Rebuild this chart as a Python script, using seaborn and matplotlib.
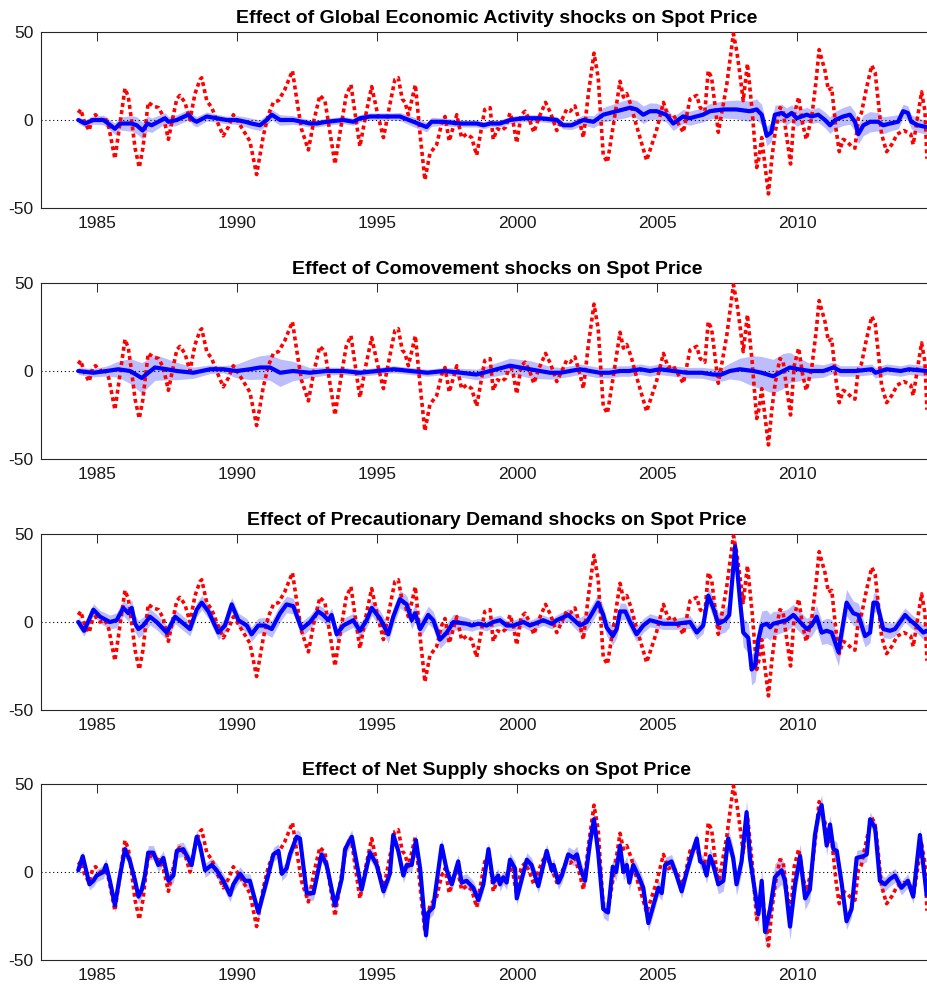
import numpy as np
import matplotlib
matplotlib.use("Agg")
import matplotlib.pyplot as plt
import seaborn as sns

# ---------------- data ----------------
titles = [
    "Effect of Global Economic Activity shocks on Spot Price",
    "Effect of Comovement shocks on Spot Price",
    "Effect of Precautionary Demand shocks on Spot Price",
    "Effect of Net Supply shocks on Spot Price",
]
x_ticks = [1985, 1990, 1995, 2000, 2005, 2010]
y_ticks = [-50, 0, 50]

# spot price (red dotted), same in every panel
red_year = [1984.33, 1984.42, 1984.55, 1984.72, 1984.85, 1984.95, 1985.1, 1985.3, 1985.42, 1985.64,
            1985.82, 1986.0, 1986.12, 1986.25, 1986.36, 1986.51, 1986.64, 1986.74, 1986.83, 1987.0,
            1987.2, 1987.37, 1987.55, 1987.73, 1987.85, 1987.96, 1988.14, 1988.32, 1988.5, 1988.68,
            1988.74, 1988.92, 1989.1, 1989.27, 1989.51, 1989.69, 1989.87, 1990.0, 1990.23, 1990.46,
            1990.7, 1990.94, 1991.12, 1991.3, 1991.48, 1991.7, 1991.98, 1992.15, 1992.3, 1992.55,
            1992.75, 1992.96, 1993.14, 1993.3, 1993.5, 1993.7, 1993.9, 1994.07, 1994.25, 1994.39,
            1994.6, 1994.81, 1995.0, 1995.23, 1995.45, 1995.64, 1995.76, 1995.9, 1996.0, 1996.12,
            1996.37, 1996.55, 1996.71, 1996.89, 1997.13, 1997.31, 1997.43, 1997.58, 1997.85, 1998.02,
            1998.2, 1998.38, 1998.56, 1998.85, 1999.04, 1999.15, 1999.3, 1999.45, 1999.6, 1999.75,
            1999.87, 1999.99, 2000.15, 2000.29, 2000.45, 2000.6, 2000.8, 2001.02, 2001.2, 2001.42,
            2001.6, 2001.77, 2001.9, 2002.07, 2002.25, 2002.37, 2002.55, 2002.75, 2002.9, 2003.08,
            2003.23, 2003.45, 2003.68, 2003.8, 2003.92, 2004.08, 2004.21, 2004.63, 2004.98, 2005.23,
            2005.4, 2005.58, 2005.76, 2005.94, 2006.18, 2006.42, 2006.54, 2006.71, 2006.83, 2006.95,
            2007.19, 2007.49, 2007.73, 2007.85, 2007.96, 2008.08, 2008.23, 2008.4, 2008.56, 2008.65,
            2008.74, 2008.85, 2008.98, 2009.1, 2009.22, 2009.39, 2009.5, 2009.6, 2009.77, 2009.9,
            2010.06, 2010.2, 2010.33, 2010.52, 2010.68, 2010.79, 2011.0, 2011.12, 2011.24, 2011.4,
            2011.51, 2011.65, 2011.77, 2011.95, 2012.07, 2012.19, 2012.3, 2012.48, 2012.67, 2012.79,
            2012.9, 2013.02, 2013.2, 2013.38, 2013.58, 2013.82, 2014.06, 2014.15, 2014.27, 2014.45,
            2014.57, 2014.64]
red_val = [4, 6, -1, -6, 2, 3, 0, 1, -4, -22,
           -2, 18, 13, -2, -16, -27, -16, -2, 10, 8,
           7, 2, -11, 3, 12, 14, 10, 0, 15, 23,
           24, 11, 7, 0, -9, -4, 3, 0, -6, -12,
           -31, -9, 3, 10, 11, 17, 28, 10, -5, -17,
           0, 14, 11, -5, -25, -5, 14, 20, 0, -15,
           3, 19, 5, -10, 8, 23, 24, 12, 10, 3,
           20, -10, -34, -19, -14, -2, 2, -12, 3, -10,
           -8, -10, -20, 6, 7, -11, -5, -6, -4, 4,
           -2, -13, 3, 5, 0, -7, 2, 10, 4, -6,
           0, 6, 5, 8, -2, -10, 15, 38, 24, -20,
           -24, -2, 22, 13, 15, 8, 0, -23, -6, 10,
           2, 3, -2, -7, 12, 14, 7, 5, 28, 24,
           -7, 20, 49, 39, 26, 11, 32, 5, -27, -21,
           -10, -25, -42, -22, -7, 7, 6, -6, -25, 3,
           13, -2, -11, 1, 22, 40, 28, 17, 18, -6,
           -18, -11, -12, -15, -16, 1, 4, 18, 31, 27,
           11, -8, -18, -14, -8, -6, -8, -14, -2, 16,
           5, -22]

# Global Economic Activity contribution
b1_year = [1984.33, 1984.57, 1984.87, 1985.23, 1985.4, 1985.64, 1985.82, 1986.24, 1986.42, 1986.63,
           1986.8, 1986.95, 1987.19, 1987.43, 1987.55, 1987.85, 1988.26, 1988.44, 1988.56, 1988.92,
           1989.27, 1989.63, 1989.99, 1990.29, 1990.52, 1990.82, 1991.06, 1991.24, 1991.54, 1992.01,
           1992.61, 1992.85, 1993.2, 1993.8, 1994.15, 1994.39, 1994.75, 1995.11, 1995.46, 1995.82,
           1996.3, 1996.77, 1996.95, 1997.37, 1997.96, 1998.56, 1998.8, 1999.04, 1999.39, 1999.75,
           2000.23, 2000.82, 2001.42, 2001.65, 2001.95, 2002.37, 2002.73, 2003.08, 2003.8, 2004.04,
           2004.27, 2004.51, 2004.75, 2004.99, 2005.33, 2005.58, 2005.93, 2006.17, 2006.4, 2006.64,
           2006.89, 2007.37, 2007.83, 2008.3, 2008.56, 2008.74, 2008.92, 2009.08, 2009.21, 2009.45,
           2009.63, 2009.81, 2009.99, 2010.35, 2010.52, 2010.76, 2011.0, 2011.18, 2011.36, 2011.65,
           2011.89, 2012.07, 2012.19, 2012.37, 2012.61, 2012.9, 2013.08, 2013.32, 2013.61, 2013.79,
           2013.96, 2014.08, 2014.32, 2014.62]
b1_val = [0, -2, 0, 0, -2, -5, -2, -2, -3, -6,
          -2, -3, -1, 1, -1, 0, 3, 0, -1, 2,
          1, 0, 0, -1, -2, -3, 0, 3, 0, 0,
          -2, -2, -1, 0, -1, 1, 2, 2, 2, 2,
          -1, -4, -1, -1, -2, -2, -3, -2, -2, 0,
          1, 1, 0, -3, -3, 0, -1, 3, 6, 7,
          6, 3, 5, 5, 3, -2, 2, 1, 2, 3,
          5, 6, 6, 5, 6, 3, -9, -7, 3, 4,
          2, 4, 1, 3, 2, 3, 0, -3, 0, 2,
          3, -1, -8, -3, -1, -1, -3, -2, -1, 5,
          4, -1, -3, -4]

# Comovement contribution
b2_year = [1984.33, 1984.87, 1985.35, 1985.76, 1986.18, 1986.6, 1986.83, 1987.07, 1987.49, 1987.85,
           1988.44, 1989.04, 1989.51, 1989.99, 1990.46, 1990.82, 1991.18, 1991.54, 1992.0, 1992.6,
           1993.2, 1993.8, 1994.4, 1995.0, 1995.6, 1996.2, 1996.8, 1997.4, 1998.0, 1998.55,
           1999.04, 1999.75, 2000.11, 2000.46, 2000.82, 2001.18, 2001.54, 2001.9, 2002.25, 2002.6,
           2002.96, 2003.3, 2003.68, 2004.0, 2004.4, 2004.75, 2005.1, 2005.6, 2006.06, 2006.6,
           2007.0, 2007.3, 2007.6, 2007.96, 2008.44, 2008.74, 2009.15, 2009.5, 2009.75, 2010.05,
           2010.47, 2010.94, 2011.3, 2011.55, 2012.1, 2012.67, 2012.8, 2013.2, 2013.7, 2014.0,
           2014.64]
b2_val = [0, -1, 0, 1, 0, -4, -1, 2, 1, 0,
          -1, 1, 1, 0, 1, 2, 2, -1, 0, -1,
          0, 0, -1, 0, 1, 0, -1, 0, -1, -2,
          0, 3, 2, 1, 0, -1, -1, 0, 1, 0,
          -1, -1, 0, 0, 1, 0, 1, 0, -1, -1,
          -2, -2, 0, 1, 0, -1, -3, 0, 2, 1,
          0, 0, 2, 0, 0, 1, -1, 1, 0, 1,
          0]

# Precautionary Demand contribution
b3_year = [1984.33, 1984.54, 1984.87, 1985.11, 1985.46, 1985.7, 1985.94, 1986.12, 1986.24, 1986.36,
           1986.48, 1986.65, 1986.89, 1987.13, 1987.49, 1987.79, 1988.02, 1988.32, 1988.56, 1988.74,
           1988.98, 1989.33, 1989.57, 1989.81, 1990.05, 1990.35, 1990.52, 1990.76, 1991.0, 1991.24,
           1991.54, 1991.77, 1992.01, 1992.31, 1992.61, 1992.9, 1993.08, 1993.26, 1993.38, 1993.56,
           1993.8, 1994.15, 1994.39, 1994.63, 1994.81, 1995.11, 1995.4, 1995.58, 1995.82, 1996.06,
           1996.24, 1996.36, 1996.54, 1996.83, 1997.01, 1997.25, 1997.49, 1997.73, 1998.2, 1998.38,
           1998.62, 1998.92, 1999.15, 1999.39, 1999.63, 1999.87, 2000.23, 2000.46, 2000.94, 2001.24,
           2001.42, 2001.83, 2002.25, 2002.49, 2002.61, 2002.9, 2003.08, 2003.2, 2003.42, 2003.56,
           2003.68, 2003.87, 2004.04, 2004.27, 2004.51, 2004.75, 2005.23, 2005.7, 2006.18, 2006.42,
           2006.65, 2006.83, 2007.01, 2007.19, 2007.43, 2007.58, 2007.79, 2007.96, 2008.08, 2008.26,
           2008.38, 2008.5, 2008.62, 2008.74, 2008.92, 2009.04, 2009.15, 2009.39, 2009.63, 2009.87,
           2010.17, 2010.35, 2010.52, 2010.7, 2010.88, 2011.06, 2011.24, 2011.48, 2011.77, 2012.01,
           2012.19, 2012.43, 2012.61, 2012.73, 2012.85, 2013.08, 2013.32, 2013.5, 2013.86, 2014.04,
           2014.27, 2014.51, 2014.63]
b3_val = [0, -5, 7, 3, 0, 1, 8, 5, 8, -1,
          -4, -2, 3, 0, -6, 3, 0, -4, 7, 11,
          6, -6, -2, 10, 1, -2, -7, -2, -2, -4,
          5, 10, 9, -4, 0, 6, 4, 1, 4, -7,
          -2, 1, -5, 1, 8, 2, -7, 3, 13, 10,
          1, 5, -4, 4, 1, -10, -6, 0, -1, -2,
          -1, -2, 0, 1, -2, -2, 0, -2, 1, -1,
          1, 4, -2, 0, 3, 11, 4, -3, -8, -4,
          6, 6, 0, -7, -2, 1, -1, -1, 0, -6,
          -2, 15, 8, -1, 1, 4, 43, 13, -6, -9,
          -27, -25, -10, -2, -1, -3, -1, 0, 1, 4,
          -1, -4, -2, 3, -6, -5, -6, -17, 11, 5,
          4, -8, -6, 11, 11, -4, -5, -4, 4, 1,
          -2, -6, -5]

# Net Supply contribution
b4_year = [1984.33, 1984.49, 1984.73, 1984.87, 1984.99, 1985.23, 1985.32, 1985.46, 1985.64, 1985.82,
           1986.0, 1986.18, 1986.36, 1986.48, 1986.6, 1986.71, 1986.83, 1987.01, 1987.19, 1987.37,
           1987.55, 1987.73, 1987.85, 1988.08, 1988.38, 1988.56, 1988.68, 1988.86, 1989.1, 1989.27,
           1989.51, 1989.75, 1989.87, 1990.11, 1990.29, 1990.46, 1990.76, 1991.06, 1991.3, 1991.48,
           1991.6, 1991.77, 1991.89, 1992.13, 1992.25, 1992.49, 1992.73, 1993.02, 1993.2, 1993.32,
           1993.5, 1993.74, 1993.86, 1994.1, 1994.45, 1994.75, 1994.99, 1995.23, 1995.46, 1995.58,
           1995.76, 1995.94, 1996.06, 1996.24, 1996.39, 1996.54, 1996.75, 1996.83, 1997.01, 1997.31,
           1997.49, 1997.67, 1997.9, 1998.02, 1998.2, 1998.44, 1998.62, 1998.8, 1998.98, 1999.15,
           1999.33, 1999.39, 1999.51, 1999.63, 1999.75, 1999.93, 1999.99, 2000.35, 2000.52, 2000.76,
           2001.06, 2001.24, 2001.3, 2001.48, 2001.6, 2001.83, 2002.02, 2002.14, 2002.26, 2002.43,
           2002.61, 2002.75, 2002.9, 2003.08, 2003.25, 2003.42, 2003.54, 2003.68, 2003.8, 2003.92,
           2004.01, 2004.15, 2004.33, 2004.51, 2004.69, 2004.87, 2005.05, 2005.17, 2005.29, 2005.52,
           2005.7, 2005.88, 2006.06, 2006.24, 2006.42, 2006.54, 2006.65, 2006.77, 2006.89, 2007.01,
           2007.19, 2007.37, 2007.54, 2007.72, 2007.84, 2008.02, 2008.2, 2008.32, 2008.44, 2008.62,
           2008.74, 2008.86, 2009.04, 2009.21, 2009.45, 2009.57, 2009.75, 2009.93, 2010.11, 2010.29,
           2010.46, 2010.64, 2010.76, 2010.88, 2011.06, 2011.18, 2011.3, 2011.42, 2011.6, 2011.77,
           2011.95, 2012.13, 2012.37, 2012.49, 2012.61, 2012.79, 2012.96, 2013.14, 2013.32, 2013.5,
           2013.73, 2013.96, 2014.15, 2014.39, 2014.63]
b4_val = [1, 9, -7, -5, -2, 0, 4, -5, -19, -2,
          13, 6, -5, -14, -10, -2, 11, 11, 4, 8,
          -5, -2, 12, 13, 4, 20, 15, 1, 4, 1,
          -5, -13, -7, -1, -5, -5, -23, -5, 10, 12,
          -1, 2, 10, 20, 19, -12, -12, 10, 4, -5,
          -19, -4, 13, 20, -10, 11, 4, -11, -1, 21,
          12, -2, 4, 4, 18, 2, -36, -23, -20, 15,
          1, -7, 6, -6, -5, -9, -16, -7, 13, -6,
          -2, -7, -3, -6, 7, 2, -15, 7, 4, -8,
          12, 1, 4, -6, -2, 10, 8, 10, 2, -5,
          17, 30, 11, -21, -23, 3, 0, 15, 0, 4,
          -6, 4, -2, -9, -29, -19, -9, -12, 4, 6,
          -2, -11, 0, 10, 19, 6, 5, -2, 9, 4,
          -7, -5, 19, 8, -7, 6, 34, 8, -5, -24,
          -5, -34, -21, -3, 1, -5, -31, -7, 9, -15,
          -10, 21, 32, 38, 15, 27, 13, 12, -7, -28,
          -21, 8, 9, 10, 30, 25, -5, -7, -4, -2,
          -9, -5, -14, 21, -13]

# half-width of the shaded band, one value per calendar year 1984..2014
band_years = list(range(1984, 2015))
hw1 = [2, 3, 5, 3, 3, 2, 3, 3, 2, 2, 2, 2, 3, 2, 2, 2, 2, 2, 3, 5, 5, 4, 4, 5, 6, 5, 4, 5, 6, 4, 4]
hw2 = [2, 3, 9, 6, 3, 2, 6, 8, 3, 2, 2, 2, 2, 2, 3, 4, 5, 3, 3, 3, 3, 3, 3, 4, 9, 10, 4, 3, 3, 3, 3]
hw3 = [3, 4, 5, 4, 4, 4, 4, 5, 4, 4, 4, 5, 5, 5, 3, 3, 3, 3, 5, 5, 4, 3, 4, 7, 9, 6, 6, 8, 6, 4, 4]
hw4 = [3, 4, 4, 4, 4, 4, 4, 4, 4, 4, 4, 4, 4, 4, 4, 4, 4, 4, 5, 5, 5, 4, 4, 6, 7, 8, 6, 5, 4, 4, 4]

blue_years = [b1_year, b2_year, b3_year, b4_year]
blue_vals = [b1_val, b2_val, b3_val, b4_val]
half_widths = [hw1, hw2, hw3, hw4]

# ---------------- figure ----------------
sns.set_style("white")
plt.rcParams['font.family'] = ['Liberation Sans', 'DejaVu Sans']
plt.rcParams['axes.unicode_minus'] = False

W, H = 927, 990
fig = plt.figure(figsize=(W / 100, H / 100), dpi=100)

ax_left_px, ax_right_px = 41, 953
panel_tops = [32, 283, 534, 784]
panel_h = 176
x_left = 1983.0
x_right = 1985 + (ax_right_px - 97) / 28.0

edge = '#262626'
band_col = '#bdbdfc'

for i in range(4):
    top = panel_tops[i]
    ax = fig.add_axes([ax_left_px / W, 1 - (top + panel_h) / H,
                       (ax_right_px - ax_left_px) / W, panel_h / H])
    bx = np.array(blue_years[i], dtype=float)
    by = np.array(blue_vals[i], dtype=float)
    hw = np.interp(bx, np.array(band_years) + 0.5, half_widths[i])
    ax.fill_between(bx, by - hw, by + hw, color=band_col, lw=0, zorder=1)
    ax.axhline(0, color='black', lw=0.8, ls=(0, (1, 2.5)), zorder=2)
    sns.lineplot(x=red_year, y=red_val, ax=ax, color='#ff0000', lw=2.6,
                 linestyle=(0, (1.1, 0.9)), zorder=3)
    sns.lineplot(x=bx, y=by, ax=ax, color='#0000ff', lw=3.0, zorder=4)

    ax.set_xlim(x_left, x_right)
    ax.set_ylim(-50, 50)
    ax.set_xticks(x_ticks)
    ax.set_xticklabels([str(t) for t in x_ticks])
    ax.set_yticks(y_ticks)
    ax.set_yticklabels([str(t) for t in y_ticks])
    ax.set_xlabel('')
    ax.set_ylabel('')
    ax.tick_params(axis='both', direction='in', length=6.5, width=0.7, colors=edge,
                   labelcolor='#1a1a1a', labelsize=12.5, top=True, right=True)
    ax.tick_params(axis='x', pad=5.5)
    ax.tick_params(axis='y', pad=5.5)
    for s in ax.spines.values():
        s.set_visible(True)
        s.set_color(edge)
        s.set_linewidth(0.8)
    ax.set_title(titles[i], fontsize=14, fontweight='bold', pad=6.5, color='black')

fig.savefig('out.png', dpi=100)
